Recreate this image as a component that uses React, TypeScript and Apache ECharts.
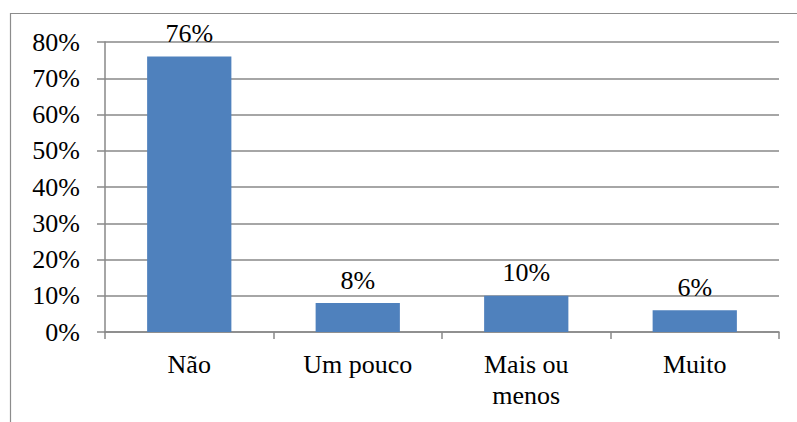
import React, { useEffect, useRef } from "react";
import * as echarts from "echarts";

const categories = ["Não", "Um pouco", "Mais ou\nmenos", "Muito"];
const values = [76, 8, 10, 6];
const yTicks = [0, 10, 20, 30, 40, 50, 60, 70, 80];

const FONT = "Liberation Serif";
const FS = 26;
const GRAY = "#888888";

export default function App() {
  const ref = useRef<HTMLDivElement>(null);
  useEffect(() => {
    if (!ref.current) return;
    const chart = echarts.init(ref.current, undefined, { renderer: "svg" });
    chart.setOption({
      animation: false,
      graphic: [
        {
          type: "rect",
          shape: { x: 10.5, y: 13.5, width: 800, height: 420 },
          style: { fill: "none", stroke: "#8c8c8c", lineWidth: 1.2 },
          silent: true,
        },
      ],
      grid: { left: 105, right: 18, top: 42, bottom: 90, containLabel: false },
      xAxis: {
        type: "category",
        data: categories,
        axisLine: { show: true, lineStyle: { color: GRAY, width: 1.5 } },
        axisTick: { show: true, length: 7, alignWithLabel: false, lineStyle: { color: GRAY, width: 1.5 } },
        axisLabel: {
          fontFamily: FONT,
          fontSize: FS,
          color: "#000",
          margin: 17,
          lineHeight: 31,
        },
      },
      yAxis: {
        type: "value",
        min: yTicks[0],
        max: yTicks[yTicks.length - 1],
        interval: 10,
        axisLine: { show: true, lineStyle: { color: GRAY, width: 1.5 } },
        axisTick: { show: true, length: 8, lineStyle: { color: GRAY, width: 1.5 } },
        splitLine: { show: true, lineStyle: { color: GRAY, width: 1.5 } },
        axisLabel: {
          fontFamily: FONT,
          fontSize: FS,
          color: "#000",
          margin: 25,
          formatter: (v: number) => `${v}%`,
        },
      },
      series: [
        {
          type: "bar",
          data: values,
          barWidth: "50%",
          itemStyle: { color: "#4F81BD" },
          label: {
            show: true,
            position: "top",
            distance: 10,
            fontFamily: FONT,
            fontSize: FS,
            color: "#000",
            formatter: (p: any) => `${p.value}%`,
          },
        },
      ],
    });
    return () => chart.dispose();
  }, []);
  return <div ref={ref} style={{ width: 797, height: 422, position: "absolute", left: 0, top: 0, background: "#fff" }} />;
}
